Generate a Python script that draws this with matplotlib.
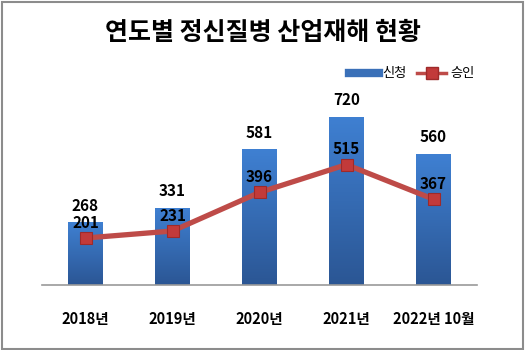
import matplotlib
matplotlib.use("Agg")
import matplotlib.pyplot as plt
import numpy as np
from matplotlib.lines import Line2D
from matplotlib.patches import Rectangle
from matplotlib.colors import LinearSegmentedColormap

plt.rcParams['font.family'] = ['Noto Sans CJK KR', 'DejaVu Sans']

# data
years = ['2018년', '2019년', '2020년', '2021년', '2022년 10월']
applied = [268, 331, 581, 720, 560]
approved = [201, 231, 396, 515, 367]

BAR_TOP = '#3F80D2'
BAR_BOTTOM = '#2B5694'
LINE_RED = '#BE4B48'
MARKER_RED = '#C23A3A'

fig = plt.figure(figsize=(5.26, 3.5), dpi=100)
fig.patch.set_facecolor('white')

# outer frame
fig.patches.append(Rectangle((0.003, 0.004), 0.992, 0.99, transform=fig.transFigure,
                             fill=False, edgecolor='#8C8C8C', linewidth=1.5))

fig.text(0.5, 0.905, '연도별 정신질병 산업재해 현황', ha='center', va='center',
         fontsize=18, fontweight='bold')

ax = fig.add_axes([42 / 526, 65 / 350, 435 / 526, 187 / 350])
x = np.arange(len(years))
width = 0.40

# bars with a vertical gradient
cmap = LinearSegmentedColormap.from_list('bar', [BAR_BOTTOM, BAR_TOP])
grad = np.linspace(0, 1, 256).reshape(-1, 1)
bars = ax.bar(x, applied, width=width, color='none', zorder=2)
for bar, xi, v in zip(bars, x, applied):
    im = ax.imshow(grad, cmap=cmap, origin='lower', aspect='auto',
                   extent=[xi - width / 2, xi + width / 2, 0, v], zorder=2)
    im.set_clip_path(bar)
ax.set_xlim(-0.5, len(years) - 0.5)
ax.set_ylim(0, 800)

ax.plot(x, approved, color=LINE_RED, linewidth=3.8, zorder=3, solid_capstyle='round')
ax.plot(x, approved, linestyle='none', marker='s', markersize=8.5,
        markerfacecolor=MARKER_RED, markeredgecolor='#9E2A2A', markeredgewidth=0.8, zorder=4)

for xi, v in zip(x, applied):
    ax.annotate(str(v), (xi, v), xytext=(0, 12), textcoords='offset points',
                ha='center', va='center', fontsize=11, fontweight='bold', zorder=5)
for xi, v in zip(x, approved):
    ax.annotate(str(v), (xi, v), xytext=(0, 11), textcoords='offset points',
                ha='center', va='center', fontsize=11, fontweight='bold', zorder=5)

ax.set_xticks(x)
ax.set_xticklabels(years, fontsize=10.5, fontweight='bold')
ax.tick_params(axis='x', length=0, pad=19)
ax.set_yticks([])
for side in ['top', 'right', 'left']:
    ax.spines[side].set_visible(False)
ax.spines['bottom'].set_color('#9A9A9A')
ax.spines['bottom'].set_linewidth(1.2)

handles = [Line2D([], [], color='#3A70B8', linewidth=6),
           Line2D([], [], color=LINE_RED, linewidth=2.5, marker='s', markersize=8,
                  markerfacecolor=MARKER_RED, markeredgecolor='#9E2A2A')]
fig.legend(handles, ['신청', '승인'], loc='center', bbox_to_anchor=(412 / 526, 1 - 74 / 350),
           ncol=2, frameon=False, fontsize=9.5, handlelength=2.2, handletextpad=0.3,
           columnspacing=0.8)

fig.savefig('out.png', dpi=100, facecolor='white')
